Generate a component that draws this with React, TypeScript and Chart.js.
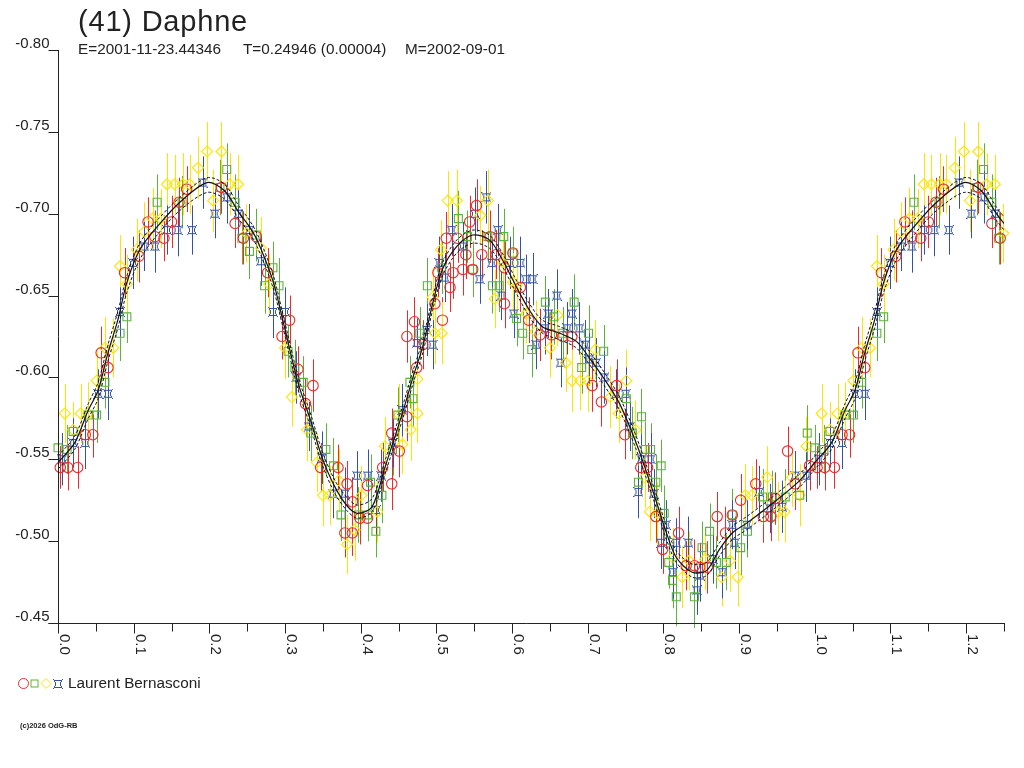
import { useEffect, useRef } from 'react';
import { Chart, registerables } from 'chart.js';

Chart.register(...registerables);

// each row: [phase, reduced magnitude, error]
const RED = [
  [0.003, -0.545, 0.013], [0.013, -0.545, 0.014], [0.026, -0.545, 0.013], [0.036, -0.565, 0.014],
  [0.046, -0.565, 0.014], [0.057, -0.615, 0.016], [0.066, -0.606, 0.014], [0.088, -0.664, 0.015],
  [0.107, -0.674, 0.016], [0.119, -0.695, 0.015], [0.128, -0.686, 0.016], [0.140, -0.685, 0.014],
  [0.150, -0.695, 0.016], [0.160, -0.707, 0.015], [0.170, -0.715, 0.014], [0.216, -0.716, 0.016],
  [0.234, -0.694, 0.015], [0.245, -0.685, 0.016], [0.262, -0.686, 0.015], [0.277, -0.664, 0.015],
  [0.296, -0.625, 0.014], [0.306, -0.635, 0.015], [0.317, -0.605, 0.014], [0.327, -0.584, 0.015],
  [0.337, -0.595, 0.016], [0.347, -0.545, 0.015], [0.370, -0.545, 0.014], [0.379, -0.505, 0.015],
  [0.382, -0.535, 0.014], [0.389, -0.505, 0.014], [0.389, -0.524, 0.015], [0.399, -0.514, 0.016],
  [0.409, -0.534, 0.015], [0.409, -0.514, 0.014], [0.429, -0.545, 0.015], [0.441, -0.535, 0.016],
  [0.441, -0.566, 0.015], [0.451, -0.555, 0.016], [0.461, -0.576, 0.015], [0.461, -0.625, 0.016],
  [0.471, -0.634, 0.015], [0.474, -0.606, 0.016], [0.482, -0.620, 0.015], [0.498, -0.645, 0.016],
  [0.502, -0.664, 0.015], [0.508, -0.635, 0.014], [0.513, -0.685, 0.016], [0.518, -0.655, 0.015],
  [0.522, -0.664, 0.016], [0.528, -0.685, 0.015], [0.535, -0.666, 0.016], [0.539, -0.675, 0.015],
  [0.544, -0.695, 0.016], [0.548, -0.666, 0.014], [0.553, -0.705, 0.016], [0.560, -0.675, 0.015],
  [0.571, -0.686, 0.016], [0.579, -0.675, 0.015], [0.590, -0.667, 0.016], [0.590, -0.645, 0.015],
  [0.601, -0.676, 0.016], [0.611, -0.655, 0.015], [0.622, -0.635, 0.014], [0.637, -0.626, 0.016],
  [0.652, -0.626, 0.015], [0.667, -0.625, 0.016], [0.679, -0.625, 0.015], [0.706, -0.595, 0.016],
  [0.718, -0.585, 0.015], [0.738, -0.595, 0.016], [0.749, -0.565, 0.015], [0.770, -0.545, 0.016],
  [0.779, -0.545, 0.015], [0.790, -0.515, 0.016], [0.799, -0.495, 0.015], [0.820, -0.505, 0.016],
  [0.830, -0.485, 0.015], [0.841, -0.485, 0.016], [0.848, -0.484, 0.015], [0.858, -0.484, 0.016],
  [0.871, -0.515, 0.015], [0.882, -0.505, 0.016], [0.891, -0.516, 0.015], [0.902, -0.525, 0.016],
  [0.922, -0.535, 0.015], [0.932, -0.515, 0.016], [0.942, -0.515, 0.015], [0.948, -0.526, 0.016],
  [0.964, -0.555, 0.015], [0.974, -0.535, 0.016], [0.993, -0.546, 0.015],
];

const GREEN = [
  [0.000, -0.557, 0.014], [0.012, -0.556, 0.015], [0.020, -0.567, 0.016], [0.040, -0.577, 0.016],
  [0.051, -0.577, 0.017], [0.062, -0.597, 0.016], [0.082, -0.627, 0.017], [0.091, -0.637, 0.016],
  [0.131, -0.707, 0.017], [0.164, -0.707, 0.016], [0.214, -0.716, 0.017], [0.223, -0.727, 0.016],
  [0.234, -0.707, 0.017], [0.243, -0.685, 0.016], [0.253, -0.677, 0.017], [0.262, -0.687, 0.016],
  [0.273, -0.656, 0.017], [0.284, -0.667, 0.016], [0.292, -0.656, 0.017], [0.304, -0.616, 0.016],
  [0.313, -0.606, 0.017], [0.324, -0.597, 0.016], [0.334, -0.566, 0.017], [0.354, -0.556, 0.016],
  [0.364, -0.546, 0.017], [0.374, -0.516, 0.016], [0.397, -0.516, 0.017], [0.409, -0.516, 0.016],
  [0.413, -0.536, 0.017], [0.420, -0.506, 0.016], [0.428, -0.528, 0.017], [0.442, -0.556, 0.016],
  [0.449, -0.577, 0.017], [0.465, -0.597, 0.016], [0.469, -0.587, 0.017], [0.478, -0.627, 0.016],
  [0.488, -0.656, 0.017], [0.507, -0.667, 0.016], [0.529, -0.697, 0.017], [0.541, -0.686, 0.016],
  [0.548, -0.666, 0.017], [0.568, -0.686, 0.016], [0.574, -0.656, 0.017], [0.583, -0.656, 0.016],
  [0.589, -0.686, 0.017], [0.601, -0.676, 0.016], [0.606, -0.636, 0.017], [0.614, -0.627, 0.016],
  [0.626, -0.617, 0.017], [0.644, -0.646, 0.016], [0.655, -0.637, 0.017], [0.667, -0.627, 0.016],
  [0.682, -0.646, 0.017], [0.692, -0.606, 0.016], [0.701, -0.627, 0.017], [0.721, -0.616, 0.016],
  [0.751, -0.587, 0.017], [0.759, -0.566, 0.016], [0.767, -0.536, 0.016], [0.771, -0.576, 0.017],
  [0.776, -0.556, 0.017], [0.783, -0.556, 0.016], [0.790, -0.536, 0.017], [0.797, -0.546, 0.016],
  [0.801, -0.517, 0.017], [0.807, -0.487, 0.016], [0.812, -0.476, 0.017], [0.817, -0.466, 0.018],
  [0.841, -0.466, 0.019], [0.851, -0.496, 0.016], [0.861, -0.506, 0.017], [0.870, -0.487, 0.016],
  [0.883, -0.487, 0.017], [0.891, -0.516, 0.016], [0.902, -0.496, 0.017], [0.911, -0.506, 0.016],
  [0.931, -0.527, 0.017], [0.944, -0.527, 0.016], [0.961, -0.527, 0.017], [0.980, -0.528, 0.016],
  [0.990, -0.566, 0.017],
];

const YELLOW = [
  [0.009, -0.578, 0.018], [0.020, -0.568, 0.017], [0.030, -0.578, 0.018], [0.040, -0.578, 0.019],
  [0.051, -0.598, 0.018], [0.062, -0.618, 0.019], [0.073, -0.618, 0.018], [0.082, -0.668, 0.019],
  [0.091, -0.657, 0.018], [0.104, -0.678, 0.019], [0.114, -0.689, 0.018], [0.125, -0.697, 0.019],
  [0.136, -0.697, 0.018], [0.144, -0.718, 0.019], [0.154, -0.718, 0.018], [0.165, -0.718, 0.019],
  [0.174, -0.718, 0.018], [0.185, -0.728, 0.019], [0.197, -0.738, 0.018], [0.205, -0.708, 0.019],
  [0.216, -0.738, 0.018], [0.227, -0.718, 0.019], [0.238, -0.718, 0.018], [0.249, -0.688, 0.018],
  [0.268, -0.679, 0.019], [0.279, -0.657, 0.018], [0.300, -0.618, 0.019], [0.309, -0.588, 0.018],
  [0.329, -0.568, 0.019], [0.342, -0.548, 0.018], [0.350, -0.528, 0.019], [0.359, -0.528, 0.018],
  [0.371, -0.537, 0.019], [0.382, -0.498, 0.018], [0.392, -0.507, 0.019], [0.401, -0.528, 0.018],
  [0.422, -0.518, 0.019], [0.432, -0.558, 0.018], [0.451, -0.577, 0.019], [0.455, -0.559, 0.018],
  [0.466, -0.568, 0.019], [0.475, -0.578, 0.018], [0.475, -0.599, 0.019], [0.495, -0.649, 0.018],
  [0.498, -0.627, 0.019], [0.506, -0.678, 0.018], [0.507, -0.627, 0.019], [0.515, -0.708, 0.018],
  [0.527, -0.708, 0.019], [0.558, -0.699, 0.018], [0.568, -0.708, 0.019], [0.577, -0.648, 0.018],
  [0.588, -0.670, 0.019], [0.601, -0.658, 0.018], [0.606, -0.656, 0.019], [0.619, -0.639, 0.018],
  [0.631, -0.628, 0.019], [0.650, -0.618, 0.018], [0.660, -0.638, 0.019], [0.671, -0.609, 0.018],
  [0.679, -0.598, 0.019], [0.690, -0.598, 0.018], [0.700, -0.598, 0.019], [0.710, -0.617, 0.018],
  [0.730, -0.588, 0.019], [0.741, -0.578, 0.018], [0.751, -0.598, 0.019], [0.763, -0.568, 0.018],
  [0.775, -0.539, 0.019], [0.782, -0.518, 0.018], [0.792, -0.517, 0.019], [0.812, -0.490, 0.018],
  [0.825, -0.478, 0.019], [0.834, -0.488, 0.018], [0.855, -0.489, 0.019], [0.877, -0.478, 0.018],
  [0.888, -0.488, 0.019], [0.898, -0.478, 0.018], [0.908, -0.528, 0.019], [0.917, -0.528, 0.018],
  [0.937, -0.539, 0.019], [0.952, -0.518, 0.018], [0.960, -0.518, 0.019], [0.970, -0.539, 0.018],
  [0.980, -0.528, 0.019], [0.989, -0.558, 0.018],
];

const BLUE = [
  [0.005, -0.550, 0.016], [0.020, -0.560, 0.015], [0.036, -0.560, 0.016], [0.053, -0.590, 0.015],
  [0.066, -0.590, 0.016], [0.082, -0.640, 0.015], [0.099, -0.670, 0.016], [0.114, -0.680, 0.015],
  [0.128, -0.680, 0.016], [0.144, -0.690, 0.015], [0.158, -0.690, 0.016], [0.177, -0.690, 0.015],
  [0.191, -0.719, 0.016], [0.207, -0.700, 0.015], [0.223, -0.710, 0.016], [0.238, -0.700, 0.015],
  [0.253, -0.690, 0.016], [0.268, -0.671, 0.015], [0.284, -0.640, 0.016], [0.300, -0.640, 0.015],
  [0.315, -0.600, 0.016], [0.331, -0.570, 0.015], [0.349, -0.551, 0.016], [0.363, -0.529, 0.015],
  [0.379, -0.529, 0.016], [0.395, -0.540, 0.015], [0.409, -0.540, 0.016], [0.420, -0.519, 0.015],
  [0.427, -0.540, 0.016], [0.442, -0.560, 0.015], [0.455, -0.580, 0.016], [0.474, -0.621, 0.015],
  [0.487, -0.629, 0.016], [0.495, -0.620, 0.015], [0.504, -0.670, 0.016], [0.511, -0.661, 0.015],
  [0.520, -0.690, 0.016], [0.535, -0.680, 0.015], [0.551, -0.700, 0.016], [0.557, -0.660, 0.015],
  [0.566, -0.710, 0.016], [0.573, -0.670, 0.015], [0.581, -0.690, 0.016], [0.586, -0.650, 0.015],
  [0.597, -0.670, 0.016], [0.602, -0.639, 0.015], [0.611, -0.670, 0.016], [0.618, -0.660, 0.015],
  [0.627, -0.660, 0.016], [0.632, -0.620, 0.015], [0.643, -0.630, 0.016], [0.648, -0.639, 0.015],
  [0.659, -0.650, 0.016], [0.664, -0.609, 0.015], [0.673, -0.630, 0.016], [0.679, -0.639, 0.015],
  [0.689, -0.630, 0.016], [0.696, -0.620, 0.015], [0.702, -0.611, 0.016], [0.711, -0.609, 0.015],
  [0.722, -0.600, 0.016], [0.737, -0.590, 0.015], [0.750, -0.590, 0.016], [0.756, -0.570, 0.015],
  [0.767, -0.530, 0.016], [0.771, -0.550, 0.015], [0.783, -0.550, 0.016], [0.787, -0.529, 0.015],
  [0.797, -0.499, 0.016], [0.803, -0.510, 0.015], [0.812, -0.481, 0.016], [0.817, -0.499, 0.015],
  [0.833, -0.499, 0.016], [0.844, -0.470, 0.015], [0.848, -0.479, 0.016], [0.865, -0.489, 0.015],
  [0.878, -0.481, 0.016], [0.891, -0.510, 0.015], [0.894, -0.499, 0.016], [0.910, -0.510, 0.015],
  [0.926, -0.530, 0.016], [0.941, -0.520, 0.015], [0.957, -0.521, 0.016], [0.974, -0.540, 0.015],
  [0.989, -0.540, 0.016],
];

// fitted lightcurve and its two envelope curves
const FIT_PHASE = [
  0.000, 0.022, 0.040, 0.053, 0.066, 0.079, 0.091, 0.108, 0.131, 0.161, 0.197, 0.220, 0.240, 0.250,
  0.263, 0.284, 0.297, 0.317, 0.335, 0.349, 0.366, 0.383, 0.396, 0.415, 0.432, 0.455, 0.469, 0.482,
  0.495, 0.508, 0.527, 0.548, 0.570, 0.587, 0.606, 0.623, 0.640, 0.663, 0.685, 0.702, 0.719, 0.742,
  0.764, 0.777, 0.790, 0.804, 0.817, 0.838, 0.857, 0.874, 0.891, 0.910, 0.944, 0.980, 1.000,
];
const FIT_MAG = [
  -0.548, -0.560, -0.580, -0.592, -0.615, -0.635, -0.658, -0.678, -0.692, -0.707, -0.719, -0.714, -0.700, -0.694,
  -0.684, -0.659, -0.635, -0.597, -0.572, -0.551, -0.533, -0.521, -0.517, -0.521, -0.545, -0.578, -0.600, -0.619,
  -0.645, -0.666, -0.680, -0.687, -0.684, -0.672, -0.655, -0.641, -0.631, -0.627, -0.622, -0.612, -0.601, -0.584,
  -0.560, -0.543, -0.525, -0.505, -0.490, -0.481, -0.482, -0.495, -0.505, -0.511, -0.523, -0.537, -0.548,
];
const FIT_HI = [
  -0.552, -0.564, -0.584, -0.597, -0.620, -0.640, -0.662, -0.682, -0.696, -0.710, -0.722, -0.718, -0.704, -0.698,
  -0.688, -0.663, -0.639, -0.601, -0.576, -0.555, -0.537, -0.526, -0.522, -0.526, -0.549, -0.582, -0.604, -0.623,
  -0.649, -0.670, -0.684, -0.690, -0.687, -0.676, -0.659, -0.645, -0.635, -0.631, -0.626, -0.616, -0.605, -0.588,
  -0.564, -0.547, -0.529, -0.509, -0.494, -0.486, -0.487, -0.499, -0.509, -0.515, -0.527, -0.541, -0.552,
];
const FIT_LO = [
  -0.544, -0.556, -0.575, -0.587, -0.610, -0.630, -0.652, -0.672, -0.687, -0.702, -0.713, -0.709, -0.696, -0.690,
  -0.680, -0.655, -0.631, -0.593, -0.568, -0.547, -0.529, -0.518, -0.514, -0.518, -0.541, -0.574, -0.596, -0.615,
  -0.641, -0.662, -0.676, -0.682, -0.679, -0.668, -0.651, -0.637, -0.627, -0.623, -0.618, -0.608, -0.597, -0.580,
  -0.556, -0.539, -0.521, -0.501, -0.487, -0.478, -0.479, -0.491, -0.501, -0.507, -0.519, -0.533, -0.544,
];

const Y_TICKS = [-0.80, -0.75, -0.70, -0.65, -0.60, -0.55, -0.50, -0.45];
const Y_LABELS = ['-0.80', '-0.75', '-0.70', '-0.65', '-0.60', '-0.55', '-0.50', '-0.45'];
const X_TICKS = [0, 0.05, 0.1, 0.15, 0.2, 0.25, 0.3, 0.35, 0.4, 0.45, 0.5, 0.55, 0.6, 0.65, 0.7, 0.75, 0.8, 0.85, 0.9, 0.95, 1.0, 1.05, 1.1, 1.15, 1.2, 1.25];
const X_LABEL_VALUES = [0, 0.1, 0.2, 0.3, 0.4, 0.5, 0.6, 0.7, 0.8, 0.9, 1.0, 1.1, 1.2];
const X_LABELS = ['0.0', '0.1', '0.2', '0.3', '0.4', '0.5', '0.6', '0.7', '0.8', '0.9', '1.0', '1.1', '1.2'];

const TITLE = '(41) Daphne';
const SUBTITLE = ['E=2001-11-23.44346', 'T=0.24946 (0.00004)', 'M=2002-09-01'];
const OBSERVER = 'Laurent Bernasconi';
const COPYRIGHT = '(c)2026 OdG-RB';

const C_RED = '#ee2a2a';
const C_GREEN = '#5cb43c';
const C_YELLOW = '#ffe400';
const C_BLUE = '#3352a8';
const INK = '#222222';
const FONT = '"Liberation Sans", Arial, sans-serif';

// phase runs to 1.25, so the first quarter of the cycle is shown twice
const wrap = (rows: number[][]) =>
  rows
    .concat(rows.filter(r => r[0] <= 0.25).map(r => [r[0] + 1, r[1], r[2]]))
    .map(r => ({ x: r[0], y: r[1], e: r[2] }));

const wrapFit = (vals: number[]) => {
  const pts = FIT_PHASE.map((p, i) => ({ x: p, y: vals[i] }));
  const ext = FIT_PHASE.map((p, i) => ({ x: p + 1, y: vals[i] })).filter(p => p.x > 1 && p.x <= 1.25);
  return pts.concat(ext);
};

const BLUE_PIXELS = [
  'X........X',
  '.XXXXXXXX.',
  '.X......X.',
  '..X....X..',
  '..X....X..',
  '..X....X..',
  '..X....X..',
  '.X......X.',
  '.XXXXXXXX.',
  'X........X',
];

function makeBlueMark() {
  const c = document.createElement('canvas');
  c.width = 10;
  c.height = 10;
  const g = c.getContext('2d')!;
  g.fillStyle = C_BLUE;
  BLUE_PIXELS.forEach((row, j) => {
    for (let i = 0; i < row.length; i++) if (row[i] === 'X') g.fillRect(i, j, 1, 1);
  });
  return c;
}

const errorBars = {
  id: 'errorBars',
  beforeDatasetsDraw(chart: any) {
    const { ctx, scales } = chart;
    ctx.save();
    ctx.lineWidth = 1;
    chart.data.datasets.forEach((ds: any) => {
      if (!ds.errColor) return;
      ctx.strokeStyle = ds.errColor;
      ds.data.forEach((p: any) => {
        const px = Math.round(scales.x.getPixelForValue(p.x)) + 0.5;
        ctx.beginPath();
        ctx.moveTo(px, scales.y.getPixelForValue(p.y - p.e));
        ctx.lineTo(px, scales.y.getPixelForValue(p.y + p.e));
        ctx.stroke();
      });
    });
    ctx.restore();
  },
};

const makeFrame = (blueMark: HTMLCanvasElement) => ({
  id: 'frame',
  afterDraw(chart: any) {
    const { ctx, chartArea, scales } = chart;
    const { left, right, top, bottom } = chartArea;
    const L = Math.round(left) + 0.5;
    const B = Math.round(bottom) + 0.5;
    ctx.save();
    ctx.strokeStyle = INK;
    ctx.fillStyle = INK;
    ctx.lineWidth = 1;

    // axes
    ctx.beginPath();
    ctx.moveTo(L, Math.round(top));
    ctx.lineTo(L, B);
    ctx.moveTo(L - 10, B);
    ctx.lineTo(Math.round(right) + 1, B);
    ctx.stroke();

    // y ticks and labels
    ctx.font = `15px ${FONT}`;
    ctx.textAlign = 'right';
    ctx.textBaseline = 'alphabetic';
    Y_TICKS.forEach((v, i) => {
      const py = Math.round(scales.y.getPixelForValue(v)) + 0.5;
      ctx.beginPath();
      ctx.moveTo(L - 10, py);
      ctx.lineTo(L, py);
      ctx.stroke();
      ctx.fillText(Y_LABELS[i], L - 9, py - 2.5);
    });

    // x ticks
    X_TICKS.forEach(v => {
      const px = Math.round(scales.x.getPixelForValue(v)) + 0.5;
      const major = X_LABEL_VALUES.some(m => Math.abs(m - v) < 1e-6);
      ctx.beginPath();
      ctx.moveTo(px, B);
      ctx.lineTo(px, B + (major ? 10 : 8));
      ctx.stroke();
    });

    // x labels, turned to read downwards
    ctx.textAlign = 'left';
    X_LABEL_VALUES.forEach((v, i) => {
      const px = Math.round(scales.x.getPixelForValue(v));
      ctx.save();
      ctx.translate(px + 1.5, B + 10.5);
      ctx.rotate(Math.PI / 2);
      ctx.fillText(X_LABELS[i], 0, 0);
      ctx.restore();
    });

    // title block
    ctx.font = `29px ${FONT}`;
    ctx.letterSpacing = '0.8px';
    ctx.fillText(TITLE, 78, 31);
    ctx.letterSpacing = '0px';
    ctx.font = `15.3px ${FONT}`;
    ctx.fillText(SUBTITLE[0], 78, 54);
    ctx.fillText(SUBTITLE[1], 243, 54);
    ctx.fillText(SUBTITLE[2], 405, 54);

    // legend
    const ly = 683.5;
    ctx.lineWidth = 1;
    ctx.strokeStyle = C_RED;
    ctx.beginPath();
    ctx.arc(23.5, ly, 5, 0, Math.PI * 2);
    ctx.stroke();
    ctx.strokeStyle = C_GREEN;
    ctx.strokeRect(31, ly - 3.5, 7, 7);
    ctx.strokeStyle = C_YELLOW;
    ctx.beginPath();
    ctx.moveTo(41, ly);
    ctx.lineTo(46, ly - 5);
    ctx.lineTo(51, ly);
    ctx.lineTo(46, ly + 5);
    ctx.closePath();
    ctx.stroke();
    ctx.drawImage(blueMark, 53, Math.round(ly) - 5);
    ctx.fillStyle = INK;
    ctx.font = `15.3px ${FONT}`;
    ctx.fillText(OBSERVER, 68, 688);

    ctx.font = `bold 7.5px ${FONT}`;
    ctx.fillText(COPYRIGHT, 20, 728);
    ctx.restore();
  },
});

export default function App() {
  const canvasRef = useRef<HTMLCanvasElement>(null);
  const chartRef = useRef<Chart | null>(null);

  useEffect(() => {
    if (!canvasRef.current) return;
    if (chartRef.current) chartRef.current.destroy();
    const blueMark = makeBlueMark();

    const marks = (label: string, rows: number[][], color: string, style: any, radius: number) => ({
      label,
      data: wrap(rows),
      errColor: color,
      pointStyle: style,
      pointRadius: radius,
      pointBorderColor: color,
      pointBackgroundColor: 'rgba(0,0,0,0)',
      pointBorderWidth: 1.1,
      showLine: false,
      clip: false,
    });

    const curve = (label: string, vals: number[], dash: number[], width: number) => ({
      label,
      data: wrapFit(vals),
      showLine: true,
      borderColor: '#111111',
      borderWidth: width,
      borderDash: dash,
      pointRadius: 0,
      tension: 0.3,
      fill: false,
    });

    const chart = new Chart(canvasRef.current, {
      type: 'scatter',
      data: {
        datasets: [
          curve('fit', FIT_MAG, [], 1.2),
          curve('fit+', FIT_HI, [3, 2], 1),
          curve('fit-', FIT_LO, [3, 2], 1),
          marks('red', RED, C_RED, 'circle', 5.2),
          marks('green', GREEN, C_GREEN, 'rect', 5.6),
          marks('yellow', YELLOW, C_YELLOW, 'rectRot', 5.5),
          marks('blue', BLUE, C_BLUE, blueMark, 5),
        ] as any,
      },
      options: {
        animation: false,
        responsive: false,
        events: [],
        layout: { padding: { left: 58, top: 50, right: 20, bottom: 145 } },
        plugins: {
          legend: { display: false },
          title: { display: false },
          tooltip: { enabled: false },
        },
        scales: {
          x: { type: 'linear', min: 0, max: 1.25, display: false },
          y: { type: 'linear', min: -0.8, max: -0.45, reverse: true, display: false },
        },
      },
      plugins: [errorBars, makeFrame(blueMark)],
    });
    chartRef.current = chart;

    return () => {
      chart.destroy();
      chartRef.current = null;
    };
  }, []);

  return (
    <div style={{ position: 'absolute', left: 0, top: 0, width: 1024, height: 768, background: 'white' }}>
      <canvas ref={canvasRef} width={1024} height={768} style={{ display: 'block' }} />
    </div>
  );
}
